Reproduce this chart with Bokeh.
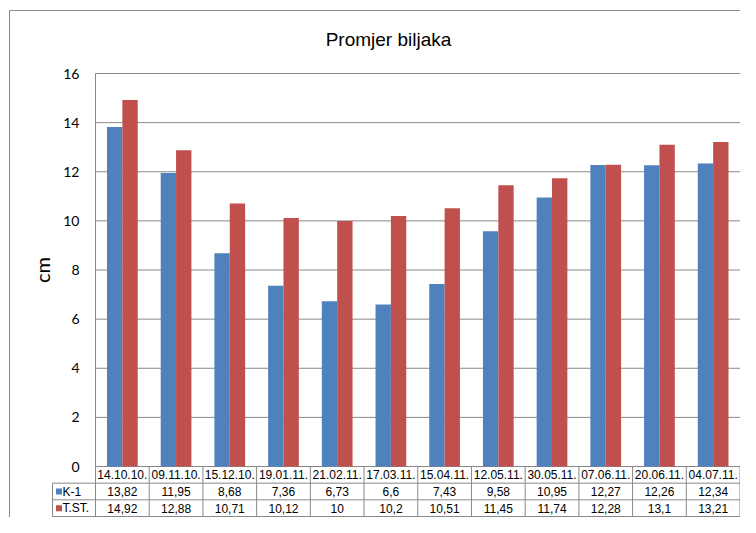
from bokeh.plotting import figure
from bokeh.models import ColumnDataSource, FixedTicker, Range1d
from bokeh.transform import dodge
from bokeh.core.properties import value
from bokeh.embed import file_html
from bokeh.resources import INLINE

# ---------------- data ----------------
dates = ["14.10.10.", "09.11.10.", "15.12.10.", "19.01.11.", "21.02.11.", "17.03.11.",
         "15.04.11.", "12.05.11.", "30.05.11.", "07.06.11.", "20.06.11.", "04.07.11."]
k1 = [13.82, 11.95, 8.68, 7.36, 6.73, 6.6, 7.43, 9.58, 10.95, 12.27, 12.26, 12.34]
tst = [14.92, 12.88, 10.71, 10.12, 10, 10.2, 10.51, 11.45, 11.74, 12.28, 13.1, 13.21]
series_names = ["K-1", "T.ST."]
y_ticks = [0, 2, 4, 6, 8, 10, 12, 14, 16]
title_text = "Promjer biljaka"
y_label = "cm"

BLUE = "#4F81BD"
RED = "#C0504D"
GRID = "#888888"
BORDER = "#898989"
TABLE_FONT = "Liberation Sans"
TABLE_SIZE = "12px"

n = len(dates)
y_max = y_ticks[-1]


def fmt(v):
    return f"{v:g}".replace(".", ",")


# ---------------- layout (canvas pixels -> data units) ----------------
W, H = 740, 517
X0_PX, XN_PX = 95.0, 739.5       # plot area left / right (category 0 .. n)
YTOP_PX, Y0_PX = 73.0, 466.0     # value y_max / value 0
ux = (XN_PX - X0_PX) / n
uy = (Y0_PX - YTOP_PX) / y_max


def px2x(px):
    return (px - X0_PX) / ux


def px2y(py):
    return (Y0_PX - py) / uy


p = figure(width=W, height=H,
           x_range=Range1d(px2x(0), px2x(W)),
           y_range=Range1d(px2y(H), px2y(0)),
           x_axis_location=None, title_location=None,
           output_backend="svg", toolbar_location=None,
           min_border_left=0, min_border_right=0, min_border_top=0, min_border_bottom=0,
           border_fill_color="white", background_fill_color="white",
           outline_line_color=None)
p.xgrid.visible = False
p.ygrid.visible = False

# outer chart-area border (top & left)
bx, by = px2x(9), px2y(10)
p.segment(x0=[bx, bx], y0=[by, by], x1=[px2x(W + 2), bx], y1=[by, px2y(H + 2)],
          line_color=BORDER, line_width=1)

# title
p.text(x=[px2x(388)], y=[px2y(39)], text=[title_text], text_align="center",
       text_baseline="middle", text_font=value("Liberation Sans"),
       text_font_size="19px", text_color="#000000")

# horizontal grid lines
p.segment(x0=[0.0] * len(y_ticks), y0=y_ticks, x1=[float(n)] * len(y_ticks), y1=y_ticks,
          line_color=GRID, line_width=1)

# bars
src = ColumnDataSource(dict(pos=[i + 0.5 for i in range(n)], k1=k1, tst=tst))
p.vbar(x=dodge("pos", -0.143), top="k1", width=0.286, source=src,
       fill_color=BLUE, line_color=None)
p.vbar(x=dodge("pos", 0.143), top="tst", width=0.286, source=src,
       fill_color=RED, line_color=None)

# y axis at x = 0
ax = p.yaxis[0]
ax.fixed_location = 0
ax.bounds = (0, y_max)
ax.ticker = FixedTicker(ticks=y_ticks)
ax.major_tick_out = 0
ax.major_tick_in = 0
ax.minor_tick_out = 0
ax.minor_tick_in = 0
ax.major_tick_line_color = None
ax.minor_tick_line_color = None
ax.axis_line_color = GRID
ax.major_label_standoff = 16
ax.major_label_text_font = "Lato"
ax.major_label_text_font_size = "14px"
ax.major_label_text_color = "#000000"
ax.axis_label = y_label
ax.axis_label_text_font = "Lato"
ax.axis_label_text_font_size = "20px"
ax.axis_label_text_font_style = "normal"
ax.axis_label_text_color = "#000000"
ax.axis_label_standoff = 6

# ---------------- data table ----------------
row_h = (50.0 / 3.0) / uy           # row height in data units
leg_left = px2x(52)
r1, r2, r3 = -row_h, -2 * row_h, -3 * row_h

vx = [float(i) for i in range(n + 1)]
p.segment(x0=vx, y0=[r3] * (n + 1), x1=vx, y1=[0.0] * (n + 1),
          line_color=GRID, line_width=1)
p.segment(x0=[leg_left], y0=[r3], x1=[leg_left], y1=[r1], line_color=GRID, line_width=1)
p.segment(x0=[leg_left] * 3, y0=[r1, r2, r3], x1=[float(n)] * 3, y1=[r1, r2, r3],
          line_color=GRID, line_width=1)

centers = [i + 0.5 for i in range(n)]
text_kw = dict(text_baseline="middle", text_font=value(TABLE_FONT),
               text_font_size=TABLE_SIZE, text_color="#000000")
p.text(x=centers, y=[r1 / 2] * n, text=dates, text_align="center", **text_kw)
p.text(x=centers, y=[(r1 + r2) / 2] * n, text=[fmt(v) for v in k1],
       text_align="center", **text_kw)
p.text(x=centers, y=[(r2 + r3) / 2] * n, text=[fmt(v) for v in tst],
       text_align="center", **text_kw)

# legend keys
sq_x, txt_x = px2x(58.5), px2x(62)
p.scatter(x=[sq_x, sq_x], y=[(r1 + r2) / 2, (r2 + r3) / 2], marker="square", size=6,
          fill_color=[BLUE, RED], line_color=None)
p.text(x=[txt_x, txt_x], y=[(r1 + r2) / 2, (r2 + r3) / 2], text=series_names,
       text_align="left", **text_kw)

open("out.html", "w").write(file_html(p, INLINE))
